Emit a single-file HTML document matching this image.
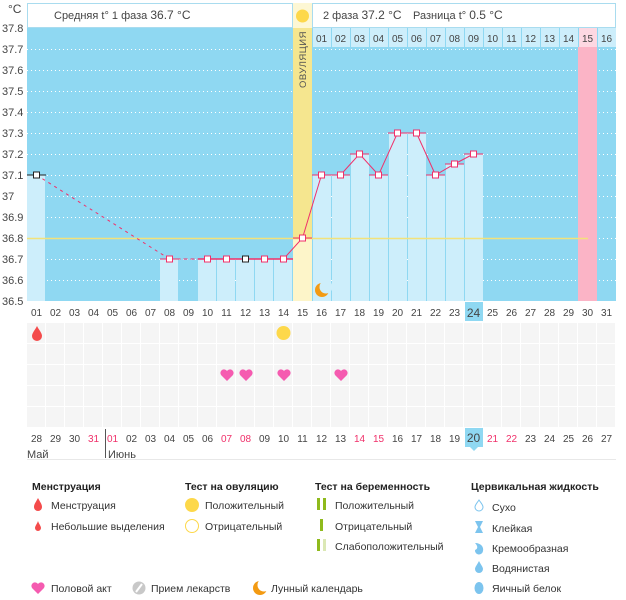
<!DOCTYPE html>
<html><head><meta charset="utf-8"><style>
body{margin:0;background:#fff;width:626px;height:595px;overflow:hidden;font-family:"Liberation Sans","DejaVu Sans",sans-serif}
svg text{font-family:"Liberation Sans","DejaVu Sans",sans-serif}
</style></head><body>
<svg width="626" height="595" viewBox="0 0 626 595" xmlns="http://www.w3.org/2000/svg">
<rect x="27.5" y="3.5" width="265" height="24" fill="#fff" stroke="#a9dcef"/>
<rect x="293" y="3" width="19" height="25" fill="#fdf7d4"/>
<rect x="312.5" y="3.5" width="303" height="24" fill="#fff" stroke="#a9dcef"/>
<circle cx="302.5" cy="16" r="6.5" fill="#fdd84a"/>
<text x="54" y="19" font-size="11" fill="#444">Средняя t° 1 фаза <tspan font-size="12">36.7 °C</tspan></text>
<text x="323" y="19" font-size="11" fill="#444">2 фаза <tspan font-size="12">37.2 °C</tspan></text>
<text x="413" y="19" font-size="11" fill="#444">Разница t° <tspan font-size="12">0.5 °C</tspan></text>
<text x="8" y="13" font-size="12" fill="#444">°C</text>
<rect x="27" y="28" width="589" height="273" fill="#8fd8f2"/>
<g stroke="#fff" stroke-width="1" stroke-dasharray="1,3">
<line x1="27" x2="616" y1="49.5" y2="49.5"/><line x1="27" x2="616" y1="70.5" y2="70.5"/><line x1="27" x2="616" y1="91.5" y2="91.5"/><line x1="27" x2="616" y1="112.5" y2="112.5"/><line x1="27" x2="616" y1="133.5" y2="133.5"/><line x1="27" x2="616" y1="154.5" y2="154.5"/><line x1="27" x2="616" y1="175.5" y2="175.5"/><line x1="27" x2="616" y1="196.5" y2="196.5"/><line x1="27" x2="616" y1="217.5" y2="217.5"/><line x1="27" x2="616" y1="238.5" y2="238.5"/><line x1="27" x2="616" y1="259.5" y2="259.5"/><line x1="27" x2="616" y1="280.5" y2="280.5"/>
</g>
<g fill="#cdeefb">
<rect x="27" y="175" width="18" height="126"/>
<rect x="160" y="259" width="18" height="42"/>
<rect x="198" y="259" width="18" height="42"/><rect x="217" y="259" width="18" height="42"/><rect x="236" y="259" width="18" height="42"/><rect x="255" y="259" width="18" height="42"/><rect x="274" y="259" width="18" height="42"/>
<rect x="313" y="175" width="18" height="126"/><rect x="332" y="175" width="18" height="126"/><rect x="351" y="154" width="18" height="147"/><rect x="370" y="175" width="18" height="126"/><rect x="389" y="133" width="18" height="168"/><rect x="408" y="133" width="18" height="168"/><rect x="427" y="175" width="18" height="126"/><rect x="446" y="164" width="18" height="137"/><rect x="465" y="154" width="18" height="147"/>
</g>
<rect x="293" y="28" width="19" height="210" fill="#f5e68f"/>
<rect x="293" y="238" width="19" height="63" fill="#fdf5c9"/>
<text transform="translate(306,88) rotate(-90)" font-size="9.5" fill="#555" letter-spacing="0.5">ОВУЛЯЦИЯ</text>
<rect x="578" y="47" width="19" height="254" fill="#fbb4c6"/>
<g fill="#cdeefb">
<rect x="313" y="28" width="18" height="19"/><rect x="332" y="28" width="18" height="19"/><rect x="351" y="28" width="18" height="19"/><rect x="370" y="28" width="18" height="19"/><rect x="389" y="28" width="18" height="19"/><rect x="408" y="28" width="18" height="19"/><rect x="427" y="28" width="18" height="19"/><rect x="446" y="28" width="18" height="19"/><rect x="465" y="28" width="18" height="19"/><rect x="484" y="28" width="18" height="19"/><rect x="503" y="28" width="18" height="19"/><rect x="522" y="28" width="18" height="19"/><rect x="541" y="28" width="18" height="19"/><rect x="560" y="28" width="18" height="19"/><rect x="598" y="28" width="18" height="19"/>
</g>
<rect x="579" y="28" width="18" height="19" fill="#fdd8e2"/>
<g font-size="10" fill="#444" text-anchor="middle">
<text x="321.5" y="42">01</text><text x="340.5" y="42">02</text><text x="359.5" y="42">03</text><text x="378.5" y="42">04</text><text x="397.5" y="42">05</text><text x="416.5" y="42">06</text><text x="435.5" y="42">07</text><text x="454.5" y="42">08</text><text x="473.5" y="42">09</text><text x="492.5" y="42">10</text><text x="511.5" y="42">11</text><text x="530.5" y="42">12</text><text x="549.5" y="42">13</text><text x="568.5" y="42">14</text><text x="587.5" y="42">15</text><text x="606.5" y="42">16</text>
</g>
<line x1="27" x2="588" y1="238.5" y2="238.5" stroke="#f3e27a" stroke-width="1.5"/>
<g stroke="#f0306a" stroke-width="1" fill="none">
<line x1="36.5" y1="175" x2="169.5" y2="259" stroke-dasharray="3,4"/>
<line x1="169.5" y1="259" x2="207.5" y2="259" stroke-dasharray="4,3"/>
<polyline points="207.5,259 283.5,259 302.5,238 321.5,175 340.5,175 359.5,154 378.5,175 397.5,133 416.5,133 435.5,175 454.5,164 473.5,154"/>
<line x1="160" x2="179" y1="259" y2="259"/>
<line x1="198" x2="293" y1="259" y2="259" stroke-width="1.5"/>
<line x1="293" x2="312" y1="238" y2="238"/>
<line x1="312" x2="350" y1="175" y2="175"/><line x1="350" x2="369" y1="154" y2="154"/><line x1="369" x2="388" y1="175" y2="175"/><line x1="388" x2="426" y1="133" y2="133"/><line x1="426" x2="445" y1="175" y2="175"/><line x1="445" x2="464" y1="164" y2="164"/><line x1="464" x2="483" y1="154" y2="154"/>
</g>
<line x1="27" x2="46" y1="175" y2="175" stroke="#222"/>
<g fill="#fff" stroke="#f0306a" stroke-width="1">
<rect x="166.5" y="256" width="6" height="6"/><rect x="204.5" y="256" width="6" height="6"/><rect x="223.5" y="256" width="6" height="6"/><rect x="261.5" y="256" width="6" height="6"/><rect x="280.5" y="256" width="6" height="6"/>
<rect x="299.5" y="235" width="6" height="6"/><rect x="318.5" y="172" width="6" height="6"/><rect x="337.5" y="172" width="6" height="6"/><rect x="356.5" y="151" width="6" height="6"/><rect x="375.5" y="172" width="6" height="6"/><rect x="394.5" y="130" width="6" height="6"/><rect x="413.5" y="130" width="6" height="6"/><rect x="432.5" y="172" width="6" height="6"/><rect x="451.5" y="161" width="6" height="6"/><rect x="470.5" y="151" width="6" height="6"/>
</g>
<g fill="#fff" stroke="#222"><rect x="33.5" y="172" width="6" height="6"/><rect x="242.5" y="256" width="6" height="6"/></g>
<circle cx="322" cy="290" r="7" fill="#f39a12"/><circle cx="326" cy="287" r="6.5" fill="#cdeefb"/>
<g font-size="11" fill="#444">
<text x="2" y="32">37.8</text><text x="2" y="53">37.7</text><text x="2" y="74">37.6</text><text x="2" y="95">37.5</text><text x="2" y="116">37.4</text><text x="2" y="137">37.3</text><text x="2" y="158">37.2</text><text x="2" y="179">37.1</text><text x="2" y="200">37</text><text x="2" y="221">36.9</text><text x="2" y="242">36.8</text><text x="2" y="263">36.7</text><text x="2" y="284">36.6</text><text x="2" y="305">36.5</text>
</g>
<rect x="465" y="302" width="18" height="19" fill="#8fd8f2"/>
<g font-size="10" fill="#444" text-anchor="middle">
<text x="36.5" y="316">01</text><text x="55.5" y="316">02</text><text x="74.5" y="316">03</text><text x="93.5" y="316">04</text><text x="112.5" y="316">05</text><text x="131.5" y="316">06</text><text x="150.5" y="316">07</text><text x="169.5" y="316">08</text><text x="188.5" y="316">09</text><text x="207.5" y="316">10</text><text x="226.5" y="316">11</text><text x="245.5" y="316">12</text><text x="264.5" y="316">13</text><text x="283.5" y="316">14</text><text x="302.5" y="316">15</text><text x="321.5" y="316">16</text><text x="340.5" y="316">17</text><text x="359.5" y="316">18</text><text x="378.5" y="316">19</text><text x="397.5" y="316">20</text><text x="416.5" y="316">21</text><text x="435.5" y="316">22</text><text x="454.5" y="316">23</text><text x="473.5" y="317" font-size="12">24</text><text x="492.5" y="316">25</text><text x="511.5" y="316">26</text><text x="530.5" y="316">27</text><text x="549.5" y="316">28</text><text x="568.5" y="316">29</text><text x="587.5" y="316">30</text><text x="606.5" y="316">31</text>
</g>
<defs><pattern id="g" width="19" height="21" patternUnits="userSpaceOnUse" x="27" y="323"><rect x="0" y="0" width="18" height="20" fill="#f5f5f5"/></pattern></defs>
<rect x="27" y="323" width="589" height="104" fill="url(#g)"/>
<path d="M37 326 C35 330 32 333 32 336 A5 5 0 0 0 42 336 C42 333 39 330 37 326Z" fill="#f44b4b"/>
<circle cx="283.5" cy="333" r="7" fill="#fdd84a"/>
<g fill="#f55bb0">
<path d="M227 381 L221 375 A3.3 3.3 0 1 1 227 371 A3.3 3.3 0 1 1 233 375Z"/>
<path d="M246 381 L240 375 A3.3 3.3 0 1 1 246 371 A3.3 3.3 0 1 1 252 375Z"/>
<path d="M284 381 L278 375 A3.3 3.3 0 1 1 284 371 A3.3 3.3 0 1 1 290 375Z"/>
<path d="M341 381 L335 375 A3.3 3.3 0 1 1 341 371 A3.3 3.3 0 1 1 347 375Z"/>
</g>
<rect x="465" y="428" width="18" height="19" fill="#8fd8f2"/>
<path d="M470 447 L474 451 L478 447Z" fill="#8fd8f2"/>
<line x1="105.5" x2="105.5" y1="429" y2="458" stroke="#555"/>
<line x1="27" x2="616" y1="459.5" y2="459.5" stroke="#e8e8e8"/>
<g font-size="10" fill="#444" text-anchor="middle">
<text x="36.5" y="442">28</text><text x="55.5" y="442">29</text><text x="74.5" y="442">30</text><text x="93.5" y="442" fill="#f0306a">31</text><text x="112.5" y="442" fill="#f0306a">01</text><text x="131.5" y="442">02</text><text x="150.5" y="442">03</text><text x="169.5" y="442">04</text><text x="188.5" y="442">05</text><text x="207.5" y="442">06</text><text x="226.5" y="442" fill="#f0306a">07</text><text x="245.5" y="442" fill="#f0306a">08</text><text x="264.5" y="442">09</text><text x="283.5" y="442">10</text><text x="302.5" y="442">11</text><text x="321.5" y="442">12</text><text x="340.5" y="442">13</text><text x="359.5" y="442" fill="#f0306a">14</text><text x="378.5" y="442" fill="#f0306a">15</text><text x="397.5" y="442">16</text><text x="416.5" y="442">17</text><text x="435.5" y="442">18</text><text x="454.5" y="442">19</text><text x="473.5" y="442" font-size="12">20</text><text x="492.5" y="442" fill="#f0306a">21</text><text x="511.5" y="442" fill="#f0306a">22</text><text x="530.5" y="442">23</text><text x="549.5" y="442">24</text><text x="568.5" y="442">25</text><text x="587.5" y="442">26</text><text x="606.5" y="442">27</text>
</g>
<text x="27" y="458" font-size="11" fill="#444">Май</text>
<text x="108" y="458" font-size="11" fill="#444">Июнь</text>
<g font-size="10.5" fill="#222" font-weight="bold">
<text x="32" y="490">Менструация</text><text x="185" y="490">Тест на овуляцию</text><text x="315" y="490">Тест на беременность</text><text x="471" y="490">Цервикальная жидкость</text>
</g>
<g font-size="10.5" fill="#333">
<text x="51" y="509">Менструация</text><text x="51" y="530">Небольшие выделения</text>
<text x="205" y="509">Положительный</text><text x="205" y="530">Отрицательный</text>
<text x="335" y="509">Положительный</text><text x="335" y="530">Отрицательный</text><text x="335" y="550">Слабоположительный</text>
<text x="492" y="511">Сухо</text><text x="492" y="532">Клейкая</text><text x="492" y="552">Кремообразная</text><text x="492" y="572">Водянистая</text><text x="492" y="592">Яичный белок</text>
<text x="51" y="592">Половой акт</text><text x="151" y="592">Прием лекарств</text><text x="271" y="592">Лунный календарь</text>
</g>
<path d="M38 498 C36 502 34 504 34 507 A4 4 0 0 0 42 507 C42 504 40 502 38 498Z" fill="#f44b4b"/>
<path d="M38 521 C37 524 35 526 35 528 A3 3 0 0 0 41 528 C41 526 39 524 38 521Z" fill="#f44b4b"/>
<circle cx="192" cy="505" r="7" fill="#fdd84a"/>
<circle cx="192" cy="526" r="6.5" fill="#fff" stroke="#fdd84a"/>
<g fill="#8fba1c"><rect x="317" y="498" width="3" height="12"/><rect x="323" y="498" width="3" height="12"/><rect x="320" y="519" width="3" height="12"/><rect x="317" y="539" width="3" height="12"/></g>
<rect x="323" y="539" width="3" height="12" fill="#dbe8b5"/>
<path d="M479 500 C477 503 475 505 475 507 A4 4 0 0 0 483 507 C483 505 481 503 479 500Z" fill="#fff" stroke="#7cc4ee"/>
<path d="M475 521 L483 521 L480 527 L483 533 L475 533 L478 527Z" fill="#7cc4ee"/>
<path d="M475 543 C481 543 484 547 483 551 A4 4 0 0 1 475 550 C478 549 478 546 475 543Z" fill="#7cc4ee"/>
<path d="M479 561 C477 565 475 567 475 569 A4 4 0 0 0 483 569 C483 567 481 565 479 561Z" fill="#7cc4ee"/>
<ellipse cx="479" cy="588" rx="4.5" ry="6" fill="#7cc4ee"/>
<path d="M38 594 L32 588 A3.3 3.3 0 1 1 38 584 A3.3 3.3 0 1 1 44 588Z" fill="#f55bb0"/>
<circle cx="139" cy="588" r="6.5" fill="#c8c8c8"/><line x1="136" y1="592" x2="142" y2="584" stroke="#fff" stroke-width="2"/>
<circle cx="260" cy="588" r="7" fill="#f39a12"/><circle cx="264" cy="585" r="6.5" fill="#fff"/>
</svg>
</body></html>
